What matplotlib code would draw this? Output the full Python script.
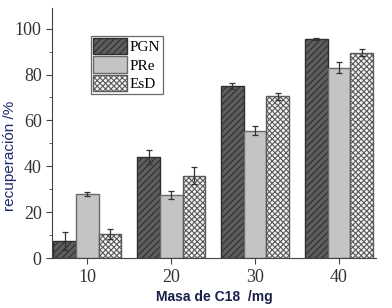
import matplotlib
matplotlib.use('Agg')
import matplotlib.pyplot as plt
import numpy as np

plt.rcParams['hatch.linewidth'] = 0.8

masses = ['10', '20', '30', '40']
series = ['PGN', 'PRe', 'EsD']
pgn = [7.5, 44.0, 75.0, 95.5]
pgn_err = [4.0, 3.0, 1.5, 0.5]
pre = [28.0, 27.5, 55.5, 83.0]
pre_err = [1.0, 1.8, 2.0, 2.5]
esd = [10.5, 36.0, 70.5, 89.5]
esd_err = [2.0, 3.5, 1.5, 1.5]

fig = plt.figure(figsize=(3.92, 3.08), dpi=100)
ax = fig.add_axes([0.133, 0.162, 0.826, 0.812])

x = np.arange(len(masses))
w = 0.27
styles = [
    dict(color='#5e5e5e', hatch='/////', edgecolor='#2e2e2e'),
    dict(color='#c4c4c4', hatch='', edgecolor='#6a6a6a'),
    dict(color='#f2f2f2', hatch='xxxxxx', edgecolor='#5a5a5a'),
]
vals = [pgn, pre, esd]
errs = [pgn_err, pre_err, esd_err]
for i in range(3):
    ax.bar(x + (i - 1) * w, vals[i], w, yerr=errs[i], label=series[i],
           facecolor=styles[i]['color'], hatch=styles[i]['hatch'],
           edgecolor=styles[i]['edgecolor'], linewidth=1.0,
           error_kw=dict(ecolor='#333333', elinewidth=0.9, capsize=2, capthick=0.9))

ax.set_xlim(-0.42, 3.44)
ax.set_ylim(0, 109)
ax.set_xticks(x)
ax.set_xticklabels(masses)
ax.set_yticks([0, 20, 40, 60, 80, 100])
ax.set_yticks([10, 30, 50, 70, 90], minor=True)
ax.spines['top'].set_visible(False)
ax.spines['right'].set_visible(False)
for s in ['left', 'bottom']:
    ax.spines[s].set_color('#444444')
ax.tick_params(axis='both', which='major', length=4, color='#444444',
               labelsize=13, labelcolor='#333333')
ax.tick_params(axis='y', which='minor', length=2, color='#444444')
for lab in ax.get_xticklabels() + ax.get_yticklabels():
    lab.set_family('Liberation Serif')

ax.set_ylabel('recuperación /%', family='Liberation Sans', fontsize=11,
              color='#1f2a6b')
ax.yaxis.set_label_coords(-0.11, 0.41)
ax.set_xlabel('Masa de C18  /mg', family='Liberation Sans', fontsize=10,
              fontweight='bold', color='#1a1f4a', labelpad=3)

leg = ax.legend(loc='upper left', bbox_to_anchor=(0.12, 0.89),
                prop={'family': 'Liberation Serif', 'size': 11},
                handlelength=2.2, handleheight=1.3, handletextpad=0.2,
                labelspacing=0.12, borderpad=0.15, borderaxespad=0,
                frameon=True, fancybox=False, edgecolor='#444444')
leg.get_frame().set_linewidth(0.9)

fig.savefig('out.png', dpi=100)
